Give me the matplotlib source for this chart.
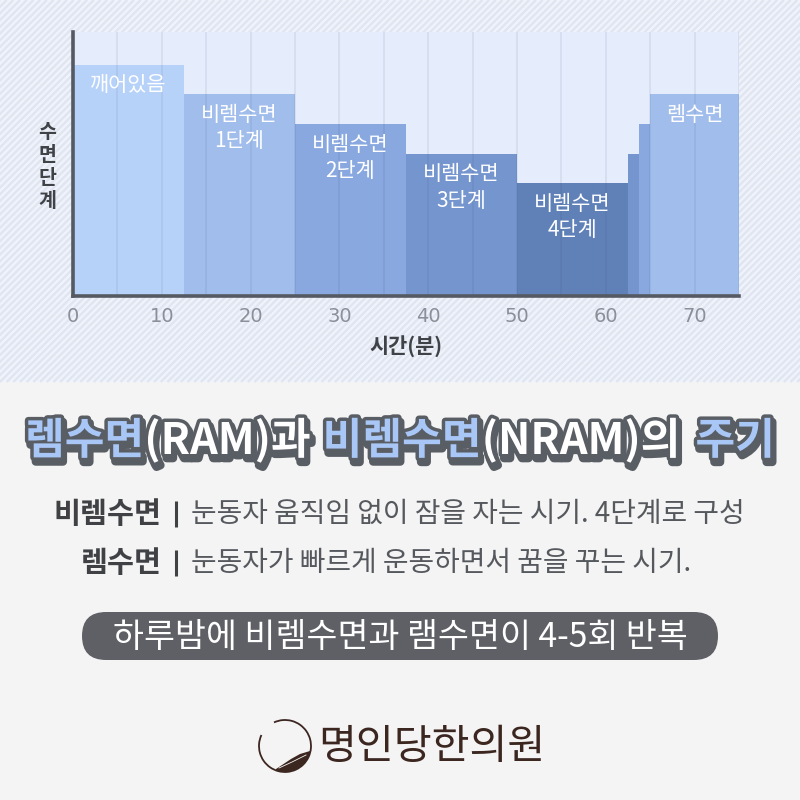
import numpy as np
import matplotlib
matplotlib.use('Agg')
import matplotlib.pyplot as plt
import matplotlib.patheffects as pe
from matplotlib.patches import Rectangle, FancyBboxPatch, Arc, Polygon
from matplotlib.collections import LineCollection

plt.rcParams['font.family'] = ['Noto Sans CJK KR', 'DejaVu Sans']

# 수면 단계 (시작 분, 길이, 높이)
stage_labels = ['깨어있음', '비렘수면\n1단계', '비렘수면\n2단계', '비렘수면\n3단계',
                '비렘수면\n4단계', '', '', '렘수면']
stage_start = [0, 12.5, 25, 37.5, 50, 62.5, 63.75, 65]
stage_len = [12.5, 12.5, 12.5, 12.5, 12.5, 1.25, 1.25, 10]
stage_level = [7.8, 6.8, 5.8, 4.8, 3.8, 4.8, 5.8, 6.8]
stage_color = ['#b7d2f9', '#a0bdec', '#88a8df', '#7595cf', '#6081b8',
               '#7595cf', '#88a8df', '#a0bdec']
x_ticks = [0, 10, 20, 30, 40, 50, 60, 70]
grid_ticks = [5, 15, 25, 35, 45, 55, 65, 75]

BLUE = '#a9c7f6'
WHITE = '#ffffff'
title_parts = ['렘수면', '(RAM)과', '비렘수면', '(NRAM)의', '주기']
title_colors = [BLUE, WHITE, BLUE, WHITE, BLUE]
title_gaps = [0, 12, 0, 15, 0]

desc_terms = ['비렘수면', '렘수면']
desc_texts = ['눈동자 움직임 없이 잠을 자는 시기. 4단계로 구성',
              '눈동자가 빠르게 운동하면서 꿈을 꾸는 시기.']
summary = '하루밤에 비렘수면과 램수면이 4-5회 반복'
brand = '명인당한의원'

fig = plt.figure(figsize=(8, 8), dpi=100, facecolor='#f4f4f4')

# background layer in pixel units (y goes down)
bg = fig.add_axes([0, 0, 1, 1], zorder=-10)
bg.set_xlim(0, 800)
bg.set_ylim(800, 0)
bg.axis('off')
bg.add_patch(Rectangle((0, 0), 800, 382, facecolor='#f0f3fa', linewidth=0))
offs = np.arange(0, 1190, 6.7)
stripes = [[(c, 0), (c - 382, 382)] for c in offs]
bg.add_collection(LineCollection(stripes, colors='#dfe5f1', linewidths=1.7))
bg.add_patch(Rectangle((0, 382), 800, 418, facecolor='#f4f4f4', linewidth=0))

# ---- chart ----
ax = fig.add_axes([73 / 800, (800 - 296) / 800, 666 / 800, 264 / 800])
ax.set_facecolor('#e5ecfb')
ax.bar(stage_start, stage_level, width=stage_len, align='edge',
       color=stage_color, linewidth=0, zorder=1)
ax.set_xlim(0, 75)
ax.set_ylim(0, 8.9)
ax.set_xticks(x_ticks)
ax.set_xticks(grid_ticks, minor=True)
ax.set_yticks([])
ax.set_axisbelow(False)
ax.grid(axis='x', which='both', color='#3a4a70', alpha=0.09, linewidth=1.4)
ax.tick_params(axis='x', which='both', length=0, pad=8, labelsize=14,
               labelcolor='#8a8f99')
for lab in ax.get_xticklabels():
    lab.set_family('DejaVu Sans')
for s in ['top', 'right']:
    ax.spines[s].set_visible(False)
for s in ['left', 'bottom']:
    ax.spines[s].set_color('#555a62')
    ax.spines[s].set_linewidth(2.6)
    ax.spines[s].set_zorder(4)

for lab, x0, w, h in zip(stage_labels, stage_start, stage_len, stage_level):
    if lab:
        ax.annotate(lab, xy=(x0 + w / 2, h), xytext=(0, -7), textcoords='offset points',
                    ha='center', va='top', color='white', fontsize=15,
                    fontweight='medium', linespacing=1.25, zorder=5)

bg.text(47, 167, '\n'.join('수면단계'), ha='center', va='center', fontsize=14,
        fontweight='bold', color='#3f4247', linespacing=1.25)
bg.text(406, 347, '시간(분)', ha='center', va='center', fontsize=15,
        fontweight='bold', color='#3f4247')

r = fig.canvas.get_renderer()


def fit(t, target):
    w = t.get_window_extent(r).width
    t.set_fontsize(t.get_fontsize() * target / w)


# ---- title ----
outline = [pe.Stroke(linewidth=6, foreground='#595d64', offset=(1.5, -3)),
           pe.Stroke(linewidth=5, foreground='#595d64'), pe.Normal()]
tparts = [bg.text(0, 454, s, color=c, fontsize=30, fontweight='bold', ha='left',
                  va='baseline', path_effects=outline)
          for s, c in zip(title_parts, title_colors)]
widths = [t.get_window_extent(r).width for t in tparts]
scale = (750 - sum(title_gaps)) / sum(widths)
x = 25
for t, w, g in zip(tparts, widths, title_gaps):
    t.set_fontsize(30 * scale)
    t.set_x(x)
    x += w * scale + g

# ---- description lines ----
term_size = None
text_size = None
for i, (term, desc) in enumerate(zip(desc_terms, desc_texts)):
    y = 514 + i * 49
    tt = bg.text(162, y, term, ha='right', va='center', fontweight='bold',
                 color='#3f4145', fontsize=18)
    dt = bg.text(191, y, desc, ha='left', va='center', color='#55585d', fontsize=16)
    if i == 0:
        fit(tt, 108)
        fit(dt, 556)
        term_size = tt.get_fontsize()
        text_size = dt.get_fontsize()
    else:
        tt.set_fontsize(term_size)
        dt.set_fontsize(text_size)
    bg.plot([176, 176], [y - 13, y + 13], color='#3f4145', linewidth=2.2,
            solid_capstyle='butt')

# ---- summary pill ----
bg.add_patch(FancyBboxPatch((82, 612), 636, 48,
                            boxstyle='round,pad=0,rounding_size=24',
                            facecolor='#5e6065', linewidth=0))
st = bg.text(400, 637, summary, ha='center', va='center', color='white', fontsize=16)
fit(st, 576)

# ---- logo ----
BROWN = '#3b2620'
cx, cy, rad = 285, 746, 26
bg.add_patch(Arc((cx, cy), 2 * rad, 2 * rad, theta1=245, theta2=565,
                 color=BROWN, linewidth=1.3))
ang = np.radians(np.linspace(250, 345, 30))
outer = np.column_stack([cx + rad * np.cos(ang), cy - rad * np.sin(ang)])
inner = np.array([[310, 751], [300, 754], [291, 759], [282, 765], [276, 769]])
bg.add_patch(Polygon(np.vstack([outer, inner]), closed=True, facecolor=BROWN,
                     linewidth=0))
bg.plot([279, 292, 306], [768, 762, 755], color='#f4f4f4', linewidth=0.6)
bt = bg.text(318, 748, brand, ha='left', va='center', color=BROWN, fontsize=24,
             fontweight='light')
fit(bt, 227)

fig.savefig('out.png', dpi=100, facecolor=fig.get_facecolor())
